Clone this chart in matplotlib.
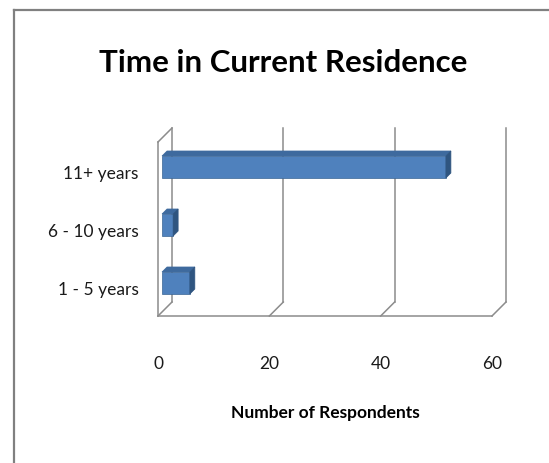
import matplotlib
matplotlib.use("Agg")
import matplotlib.pyplot as plt
from matplotlib.patches import Polygon
from matplotlib.lines import Line2D

plt.rcParams['font.family'] = ['Lato', 'DejaVu Sans']

categories = ["1 - 5 years", "6 - 10 years", "11+ years"]
respondents = [5, 2, 51]
x_ticks = [0, 20, 40, 60]
title = "Time in Current Residence"
x_label = "Number of Respondents"

W, H = 549, 464
fig = plt.figure(figsize=(W / 100, H / 100), dpi=100)

# front plane of the plot area in pixels
left_px, right_px, bottom_px, top_px = 158, 492, 317, 143
ax = fig.add_axes([left_px / W, 1 - bottom_px / H,
                   (right_px - left_px) / W, (bottom_px - top_px) / H])
ax.set_xlim(0, 60)
ax.set_ylim(-0.5, 2.5)
ax.set_frame_on(False)

px_x = 60 / (right_px - left_px)
px_y = 3 / (bottom_px - top_px)

def depth(px):
    return px * px_x, px * px_y

grid_c = "#8c8c8c"
grid_lw = 1.1
bdx, bdy = depth(14)

# back wall gridlines and floor diagonals
for v in x_ticks:
    ax.add_line(Line2D([v + bdx, v + bdx], [-0.5 + bdy, 2.5 + bdy],
                       color=grid_c, lw=grid_lw, clip_on=False))
    ax.add_line(Line2D([v, v + bdx], [-0.5, -0.5 + bdy],
                       color=grid_c, lw=grid_lw, clip_on=False))
# floor front edge
ax.add_line(Line2D([0, 60], [-0.5, -0.5], color=grid_c, lw=grid_lw, clip_on=False))
# side wall front edge and top edge
ax.add_line(Line2D([0, 0], [-0.5, 2.5], color=grid_c, lw=grid_lw, clip_on=False))
ax.add_line(Line2D([0, bdx], [2.5, 2.5 + bdy], color=grid_c, lw=grid_lw, clip_on=False))

# 3-D bars
bar_h = 0.38
f_dx, f_dy = depth(4)
b_dx, b_dy = depth(9)
front_c, top_c, side_c = "#4F81BD", "#3E6A9E", "#2F5580"
ys = list(range(len(categories)))
ax.barh([y + f_dy for y in ys], respondents, left=f_dx, height=bar_h,
        color=front_c, edgecolor="#3A6594", linewidth=0.5, zorder=3, clip_on=False)
for y, v in zip(ys, respondents):
    top = y + bar_h / 2
    bot = y - bar_h / 2
    ax.add_patch(Polygon([(f_dx, top + f_dy), (f_dx + v, top + f_dy),
                          (b_dx + v, top + b_dy), (b_dx, top + b_dy)],
                         closed=True, facecolor=top_c, edgecolor=top_c,
                         lw=0.5, zorder=3, clip_on=False))
    ax.add_patch(Polygon([(f_dx + v, bot + f_dy), (f_dx + v, top + f_dy),
                          (b_dx + v, top + b_dy), (b_dx + v, bot + b_dy)],
                         closed=True, facecolor=side_c, edgecolor=side_c,
                         lw=0.5, zorder=3, clip_on=False))

ax.set_yticks(ys)
ax.set_yticklabels(categories, fontsize=12.5, color="#1a1a1a")
ax.set_xticks(x_ticks)
ax.set_xticklabels([str(t) for t in x_ticks], fontsize=12.5, color="#1a1a1a")
ax.tick_params(axis="y", length=0, pad=14)
ax.tick_params(axis="x", length=0, pad=28)

ax.set_xlabel(x_label, fontsize=12.5, fontweight="bold", labelpad=24)

fig.text(283 / W, 1 - 63 / H, title, fontsize=22.5, fontweight="bold",
         ha="center", va="center")

# chart border (left and top edges)
fig.add_artist(Line2D([14 / W, 14 / W], [0, 1 - 11 / H], transform=fig.transFigure,
                      color="#808080", lw=1.6))
fig.add_artist(Line2D([14 / W, 1], [1 - 11 / H, 1 - 11 / H], transform=fig.transFigure,
                      color="#808080", lw=1.6))

fig.savefig("out.png", dpi=100, facecolor="white")
